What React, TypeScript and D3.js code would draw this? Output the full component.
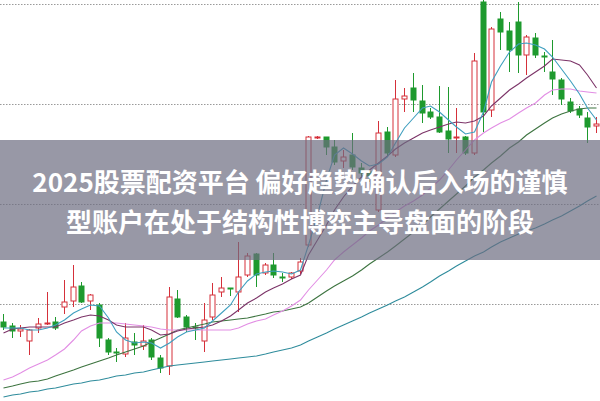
import React, { useEffect, useRef } from 'react';
import * as d3 from 'd3';

// daily candles: open / high / low / close
const opens = [
  9.83, 9.79, 9.74, 9.64, 9.77, 9.81, 9.83, 9.98, 10.04, 10.19,
  10.04, 10.0, 9.65, 9.53, 9.51, 9.63, 9.59, 9.65, 9.47, 9.39,
  10.06, 9.88, 9.78, 9.64, 9.88, 10.13, 10.17, 10.13, 10.3, 10.51,
  10.32, 10.4, 10.28, 10.28, 10.34, 10.6, 11.67, 11.68, 11.58, 11.44,
  11.5, 11.37, 11.33, 10.95, 11.73, 11.5, 12.06, 12.17, 12.04, 11.93,
  11.88, 11.74, 11.67, 11.68, 11.52, 13.03, 11.95, 12.86, 12.74, 12.83,
  12.5, 12.67, 12.49, 12.33, 12.25, 12.03, 11.96, 11.87, 11.79,
];
const highs = [
  9.91, 9.82, 9.8, 9.76, 9.87, 10.13, 9.88, 10.25, 10.4, 10.23,
  10.11, 10.02, 9.67, 9.57, 9.82, 9.72, 9.8, 9.67, 9.5, 10.18,
  10.15, 9.9, 9.82, 10.02, 10.22, 10.28, 10.17, 10.63, 10.52, 10.52,
  10.42, 10.52, 10.32, 10.33, 10.47, 11.69, 11.69, 11.68, 11.65, 11.55,
  11.72, 11.42, 11.35, 11.84, 11.78, 12.25, 12.17, 12.32, 12.2, 11.97,
  12.19, 12.18, 11.97, 11.69, 12.52, 13.05, 12.78, 12.93, 12.83, 13.03,
  12.7, 12.72, 12.53, 12.65, 12.27, 12.07, 11.99, 11.93, 11.88,
];
const lows = [
  9.75, 9.67, 9.68, 9.5, 9.72, 9.8, 9.75, 9.91, 9.98, 10.02,
  9.95, 9.58, 9.5, 9.43, 9.48, 9.5, 9.55, 9.45, 9.32, 9.3,
  9.87, 9.73, 9.65, 9.53, 9.85, 10.08, 10.09, 9.93, 10.28, 10.18,
  10.3, 10.27, 10.23, 10.26, 10.31, 10.58, 11.66, 11.5, 11.4, 11.37,
  11.35, 11.27, 11.23, 10.93, 11.48, 11.48, 11.93, 11.93, 11.82, 11.86,
  11.72, 11.52, 11.52, 11.5, 11.5, 11.73, 11.88, 12.55, 12.33, 12.32,
  12.3, 12.47, 12.33, 12.1, 12.0, 11.92, 11.87, 11.62, 11.72,
];
const closes = [
  9.78, 9.74, 9.76, 9.75, 9.81, 9.82, 9.77, 10.03, 10.18, 10.03,
  10.1, 9.67, 9.53, 9.52, 9.67, 9.6, 9.64, 9.48, 9.37, 10.08,
  9.88, 9.78, 9.77, 9.85, 10.1, 10.17, 10.16, 10.28, 10.49, 10.3,
  10.4, 10.3, 10.27, 10.32, 10.43, 11.68, 11.68, 11.58, 11.43, 11.48,
  11.38, 11.32, 11.29, 11.72, 11.52, 12.06, 12.09, 12.05, 11.92, 11.88,
  11.73, 11.66, 11.68, 11.52, 12.44, 11.93, 12.76, 12.73, 12.55, 12.5,
  12.68, 12.5, 12.48, 12.26, 12.06, 11.94, 11.9, 11.78, 11.81,
];

// moving average lines
const ma5 = [
  9.77, 9.77, 9.77, 9.75, 9.75, 9.77, 9.8, 9.85, 9.92, 9.96,
  10.0, 9.99, 9.87, 9.73, 9.65, 9.62, 9.63, 9.62, 9.57, 9.62,
  9.68, 9.73, 9.75, 9.77, 9.84, 9.92, 10.0, 10.13, 10.24, 10.31,
  10.33, 10.34, 10.33, 10.31, 10.35, 10.6, 10.9, 11.25, 11.5, 11.57,
  11.51, 11.44, 11.39, 11.41, 11.48, 11.62, 11.77, 11.87, 11.97, 11.99,
  11.93, 11.85, 11.78, 11.71, 11.73, 11.93, 12.23, 12.39, 12.53, 12.61,
  12.62, 12.6, 12.56, 12.48, 12.36, 12.24, 12.11, 11.97, 11.85,
];
const ma10 = [
  9.72, 9.76, 9.77, 9.78, 9.78, 9.78, 9.78, 9.82, 9.85, 9.88,
  9.9, 9.89, 9.85, 9.8, 9.78, 9.78, 9.78, 9.75, 9.7, 9.71,
  9.74, 9.76, 9.77, 9.78, 9.8, 9.84, 9.89, 9.95, 10.02, 10.07,
  10.13, 10.17, 10.21, 10.26, 10.3, 10.5, 10.65, 10.8, 10.95, 11.08,
  11.19, 11.28, 11.35, 11.42, 11.49, 11.56, 11.62, 11.67, 11.72, 11.75,
  11.78, 11.81, 11.83, 11.82, 11.84, 11.89, 11.99, 12.07, 12.15, 12.21,
  12.27, 12.33, 12.39, 12.46, 12.45, 12.44, 12.4, 12.3, 12.17,
];
const ma20 = [
  9.25, 9.28, 9.32, 9.37, 9.41, 9.45, 9.5, 9.56, 9.65, 9.74,
  9.79, 9.82, 9.82, 9.82, 9.81, 9.8, 9.79, 9.78, 9.76, 9.75,
  9.75, 9.75, 9.75, 9.75, 9.75, 9.75, 9.75, 9.77, 9.81, 9.84,
  9.86, 9.9, 9.94, 9.99, 10.05, 10.15, 10.25, 10.35, 10.45, 10.53,
  10.6, 10.67, 10.74, 10.8, 10.87, 10.93, 10.99, 11.04, 11.1, 11.17,
  11.25, 11.35, 11.45, 11.55, 11.65, 11.72, 11.77, 11.82, 11.86, 11.92,
  11.97, 12.02, 12.1, 12.15, 12.16, 12.16, 12.14, 12.13, 12.12,
];
const ma60 = [
  9.17, 9.19, 9.21, 9.23, 9.24, 9.26, 9.29, 9.32, 9.35, 9.38,
  9.41, 9.44, 9.47, 9.5, 9.53, 9.56, 9.59, 9.63, 9.67, 9.71,
  9.75, 9.77, 9.79, 9.81, 9.83, 9.84, 9.85, 9.86, 9.87, 9.89,
  9.91, 9.93, 9.94, 9.96, 9.98, 10.02, 10.08, 10.14, 10.19, 10.24,
  10.29, 10.35, 10.41, 10.47, 10.53, 10.59, 10.66, 10.73, 10.8, 10.88,
  10.96, 11.04, 11.11, 11.19, 11.28, 11.35, 11.42, 11.49, 11.57, 11.63,
  11.7, 11.76, 11.82, 11.87, 11.91, 11.94, 11.96, 11.97, 11.97,
];
const ma120 = [
  9.08, 9.1, 9.11, 9.13, 9.14, 9.16, 9.17, 9.19, 9.21, 9.22,
  9.24, 9.25, 9.27, 9.29, 9.3, 9.32, 9.33, 9.35, 9.37, 9.39,
  9.4, 9.41, 9.42, 9.43, 9.44, 9.45, 9.46, 9.47, 9.48, 9.49,
  9.51, 9.53, 9.55, 9.57, 9.6, 9.64, 9.68, 9.72, 9.76, 9.8,
  9.84, 9.88, 9.92, 9.96, 10.0, 10.04, 10.08, 10.13, 10.18, 10.23,
  10.29, 10.34, 10.39, 10.44, 10.49, 10.53, 10.58, 10.63, 10.67, 10.71,
  10.74, 10.77, 10.81, 10.85, 10.89, 10.94, 10.99, 11.04, 11.09,
];

const gridLevels = [10, 11, 12, 13];
const titleLines = [
  '2025股票配资平台 偏好趋势确认后入场的谨慎',
  '型账户在处于结构性博弈主导盘面的阶段',
];

const maLines = [
  { values: ma120, color: '#2f8c9c' },
  { values: ma60, color: '#3d7440' },
  { values: ma20, color: '#e28ee4' },
  { values: ma10, color: '#7c3468' },
  { values: ma5, color: '#3f9fbf' },
];

const UP = '#d5303a';
const DOWN = '#1e9a2e';

const App: React.FC = () => {
  const ref = useRef<SVGSVGElement>(null);
  const width = 600;
  const height = 401;

  useEffect(() => {
    const svg = d3.select(ref.current)
                  .attr('width', width)
                  .attr('height', height);
    svg.selectAll('*').remove();

    const n = closes.length;
    const xScale = d3.scaleLinear().domain([0, n - 1]).range([3, 596]);
    const yScale = d3.scaleLinear().domain([9, 13]).range([405, 5]);
    const cx = (i: number) => Math.round(xScale(i)) + 0.5;

    // dotted grid
    svg.append('g')
       .selectAll('line')
       .data(gridLevels)
       .join('line')
       .attr('x1', 0)
       .attr('x2', width)
       .attr('y1', d => Math.round(yScale(d)) - 0.5)
       .attr('y2', d => Math.round(yScale(d)) - 0.5)
       .attr('stroke', '#9a9a9a')
       .attr('stroke-width', 1.2)
       .attr('stroke-dasharray', '1.5,1.5');

    const idx = d3.range(n);
    const candles = svg.append('g');

    // wicks
    candles.selectAll('line.wick')
           .data(idx)
           .join('line')
           .attr('class', 'wick')
           .attr('x1', i => cx(i))
           .attr('x2', i => cx(i))
           .attr('y1', i => yScale(highs[i]))
           .attr('y2', i => yScale(lows[i]))
           .attr('stroke', i => (closes[i] >= opens[i] ? UP : DOWN))
           .attr('stroke-width', 1);

    // bodies
    candles.selectAll('rect.body')
           .data(idx)
           .join('rect')
           .attr('class', 'body')
           .attr('x', i => cx(i) - 2.5)
           .attr('width', 5)
           .attr('y', i => yScale(Math.max(opens[i], closes[i])))
           .attr('height', i => Math.max(0.8, Math.abs(yScale(opens[i]) - yScale(closes[i]))))
           .attr('fill', i => (closes[i] >= opens[i] ? '#ffffff' : DOWN))
           .attr('stroke', i => (closes[i] >= opens[i] ? UP : DOWN))
           .attr('stroke-width', 1);

    // moving averages
    const line = d3.line<number>()
                   .x((d, i) => cx(i))
                   .y(d => yScale(d));

    svg.append('g')
       .selectAll('path')
       .data(maLines)
       .join('path')
       .attr('fill', 'none')
       .attr('stroke', d => d.color)
       .attr('stroke-width', 1.1)
       .attr('d', d => line(d.values));

    // title banner
    svg.append('rect')
       .attr('x', 0)
       .attr('y', 140)
       .attr('width', width)
       .attr('height', 120)
       .attr('fill', '#6c6c80')
       .attr('fill-opacity', 0.7);

    svg.append('g')
       .selectAll('text')
       .data(titleLines)
       .join('text')
       .attr('x', width / 2)
       .attr('y', (d, i) => 191.5 + i * 40)
       .attr('text-anchor', 'middle')
       .attr('fill', '#ffffff')
       .attr('font-family', '"Noto Sans CJK SC", "Noto Sans", sans-serif')
       .attr('font-weight', 700)
       .attr('font-size', 26)
       .text(d => d);
  }, []);

  return (
    <svg ref={ref} style={{ position: 'absolute', left: 0, top: 0, background: '#ffffff' }}></svg>
  );
};

export default App;
